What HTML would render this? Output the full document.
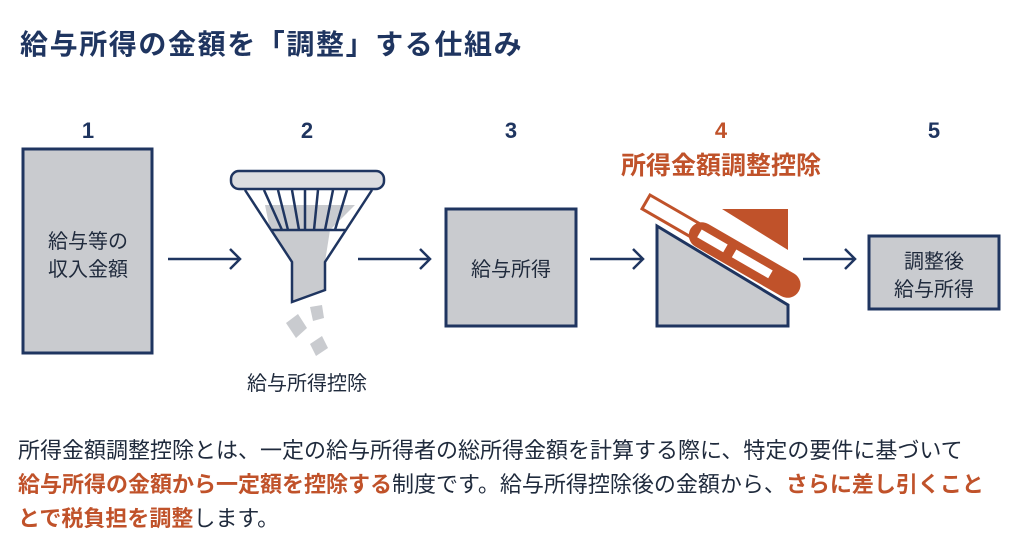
<!DOCTYPE html>
<html><head><meta charset="utf-8"><style>
body{margin:0;width:1024px;height:549px;background:#fff;font-family:"Liberation Sans","Noto Sans CJK JP",sans-serif;color:#1f2a3c;position:relative;overflow:hidden}
.t{position:absolute;white-space:nowrap}
.o{color:#c0522a;font-weight:bold}
</style></head><body>
<div class="t" style="left:20px;top:23px;font-size:28px;letter-spacing:1.6px;font-weight:bold;color:#1f3560">給与所得の金額を「調整」する仕組み</div>
<svg width="1024" height="549" style="position:absolute;left:0;top:0">
<g font-family="Liberation Sans,Noto Sans CJK JP,sans-serif" font-weight="bold" font-size="22" text-anchor="middle" fill="#1f3560">
<text x="88" y="138">1</text><text x="307" y="138">2</text><text x="511" y="138">3</text><text x="721" y="138" fill="#c0522a">4</text><text x="934" y="138">5</text>
<text x="721" y="174" font-size="25" fill="#c0522a">所得金額調整控除</text>
</g>
<g stroke="#1f3560" stroke-width="3" fill="#c9cbcf">
<rect x="23" y="149" width="129" height="204"/>
<rect x="446" y="209" width="130" height="117"/>
<rect x="869" y="236" width="130" height="73"/>
<polygon points="657,226 788,305 788,326 657,326"/>
</g>
<g font-family="Liberation Sans,Noto Sans CJK JP,sans-serif" font-size="20" text-anchor="middle" fill="#1f2a3c">
<text x="88" y="248">給与等の</text><text x="88" y="276">収入金額</text>
<text x="511" y="276">給与所得</text>
<text x="934" y="268">調整後</text><text x="934" y="296">給与所得</text>
<text x="307" y="390">給与所得控除</text>
</g>
<g stroke="#1f3560" stroke-width="2.5" fill="none">
<path d="M168 259H240M230 249l10 10-10 10"/>
<path d="M358 259H430M420 249l10 10-10 10"/>
<path d="M590 259H643M633 249l10 10-10 10"/>
<path d="M803 259H855M845 249l10 10-10 10"/>
</g>
<polygon points="265,205 355,205 330,230 325,262 325,290 292,302 292,262 270,230" fill="#c9cbcf"/>
<g stroke="#1f3560" stroke-width="2.5" fill="none">
<rect x="231" y="171" width="153" height="18" rx="8" fill="#dcdde0"/>
<path d="M245 190 L292 262 V302 L325 290 V262 L372 190"/>
<path d="M272 230H345"/>
<path d="M264 190l18 40M278 190l10 40M292 190l7 40M305 190v40M318 190l-4 40M333 190l-8 40M347 190l-12 40"/>
</g>
<g fill="#c9cbcf"><polygon points="286,323 298,314 307,328 296,338"/><polygon points="310,307 322,305 324,318 313,321"/><polygon points="310,344 322,336 328,348 316,356"/></g>
<polygon points="722,209 788,209 788,250" fill="#c0522a"/>
<g transform="translate(650,195) rotate(30)">
<rect x="0" y="0" width="58" height="16" fill="#fff" stroke="#c0522a" stroke-width="3"/>
<rect x="52" y="-4" width="125" height="26" rx="13" fill="#c0522a"/>
<rect x="62" y="4" width="30" height="9" fill="#fff"/>
<rect x="102" y="4" width="42" height="9" fill="#fff"/>
</g>
</svg>
<div class="t" style="left:18px;top:434px;font-size:22px;line-height:34px">所得金額調整控除とは、一定の給与所得者の総所得金額を計算する際に、特定の要件に基づいて<br><span class="o">給与所得の金額から一定額を控除する</span>制度です。給与所得控除後の金額から、<span class="o">さらに差し引くこと</span><br><span class="o">とで税負担を調整</span>します。</div>
</body></html>
